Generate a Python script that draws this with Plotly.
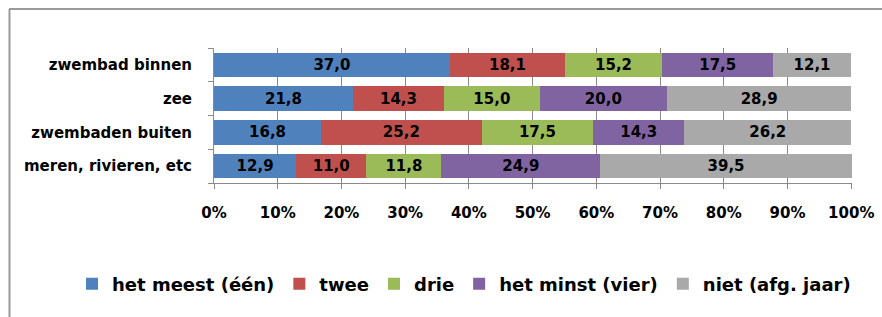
import plotly.graph_objects as go

categories = ["zwembad binnen", "zee", "zwembaden buiten", "meren, rivieren, etc"]
series_names = ["het meest (één)", "twee", "drie", "het minst (vier)", "niet (afg. jaar)"]
values = {
    "het meest (één)": [37.0, 21.8, 16.8, 12.9],
    "twee": [18.1, 14.3, 25.2, 11.0],
    "drie": [15.2, 15.0, 17.5, 11.8],
    "het minst (vier)": [17.5, 20.0, 14.3, 24.9],
    "niet (afg. jaar)": [12.1, 28.9, 26.2, 39.5],
}
colors = ["#4F81BD", "#C0504D", "#9BBB59", "#8064A2", "#A9A9A9"]
tick_vals = [0, 10, 20, 30, 40, 50, 60, 70, 80, 90, 100]
tick_text = ["0%", "10%", "20%", "30%", "40%", "50%", "60%", "70%", "80%", "90%", "100%"]

FONT = "DejaVu Sans"

fig = go.Figure()
for name, col in zip(series_names, colors):
    v = values[name]
    fig.add_trace(go.Bar(
        y=categories, x=v, name=name, orientation="h",
        marker=dict(color=col, line=dict(width=0)),
        text=[f"{x:.1f}".replace(".", ",") for x in v],
        textposition="inside", insidetextanchor="middle",
        constraintext="none",
        textfont=dict(family=FONT, size=15, color="black", weight="bold"),
        cliponaxis=False,
    ))

W, H = 882, 317
L, R, T, B = 214, 30, 48, 134
pw, ph = W - L - R, H - T - B

def px(x):
    return (x - L) / pw

def py(y):
    return (H - B - y) / ph

fig.update_layout(
    width=W, height=H,
    barmode="stack", bargap=0.28,
    margin=dict(l=L, r=R, t=T, b=B, autoexpand=False),
    paper_bgcolor="white", plot_bgcolor="white",
    font=dict(family=FONT, color="black"),
    xaxis=dict(range=[0, 100.12], tickvals=tick_vals, ticktext=tick_text,
               showgrid=True, gridcolor="#8A8A8A", gridwidth=1,
               showline=True, linecolor="#8A8A8A", linewidth=1,
               ticks="outside", ticklen=5, tickcolor="#8A8A8A",
               tickfont=dict(family=FONT, size=15, weight="bold"),
               zeroline=False, fixedrange=True, ticklabelstandoff=11,
               automargin=False),
    yaxis=dict(categoryorder="array", categoryarray=categories[::-1],
               showline=True, linecolor="#8A8A8A", linewidth=1,
               ticks="outside", ticklen=5, tickcolor="#8A8A8A",
               tickson="boundaries", showgrid=False,
               tickfont=dict(family=FONT, size=15, weight="bold"),
               ticklabelstandoff=18, automargin=False),
    legend=dict(orientation="h", x=px(72), xanchor="left",
                y=py(284), yanchor="middle",
                font=dict(family=FONT, size=18, weight="bold"),
                traceorder="normal", itemwidth=30, itemsizing="constant"),
    showlegend=True,
)

fig.add_shape(type="line", xref="paper", yref="paper",
              x0=px(9), x1=px(890), y0=py(9), y1=py(9),
              line=dict(color="#9A9A9A", width=2))
fig.add_shape(type="line", xref="paper", yref="paper",
              x0=px(9.5), x1=px(9.5), y0=py(9), y1=py(330),
              line=dict(color="#9A9A9A", width=2))

fig.write_html("out.html", config={"displayModeBar": False},
               post_script="document.body.style.margin='0';document.body.style.overflow='hidden';")
